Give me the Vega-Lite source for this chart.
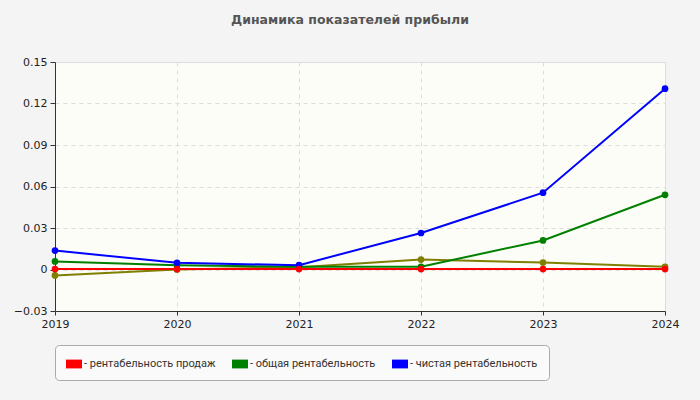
{
  "$schema": "https://vega.github.io/schema/vega-lite/v6.json",
  "autosize": {"type": "none"},
  "width": 610,
  "height": 249,
  "padding": {"left": 55, "top": 62, "right": 35, "bottom": 89},
  "background": "#f4f4f4",
  "title": {
    "text": "Динамика показателей прибыли",
    "anchor": "middle",
    "dx": -10,
    "offset": 30,
    "font": "DejaVu Sans",
    "fontSize": 12.5,
    "fontWeight": "bold",
    "color": "#555555"
  },
  "data": {
    "values": [
      {"year": 2019, "series": "прочее", "value": -0.0043},
      {"year": 2020, "series": "прочее", "value": 0.0},
      {"year": 2021, "series": "прочее", "value": 0.0017},
      {"year": 2022, "series": "прочее", "value": 0.0072},
      {"year": 2023, "series": "прочее", "value": 0.005},
      {"year": 2024, "series": "прочее", "value": 0.002},
      {"year": 2019, "series": "общая рентабельность", "value": 0.0058},
      {"year": 2020, "series": "общая рентабельность", "value": 0.003},
      {"year": 2021, "series": "общая рентабельность", "value": 0.002},
      {"year": 2022, "series": "общая рентабельность", "value": 0.002},
      {"year": 2023, "series": "общая рентабельность", "value": 0.021},
      {"year": 2024, "series": "общая рентабельность", "value": 0.054},
      {"year": 2019, "series": "чистая рентабельность", "value": 0.0137},
      {"year": 2020, "series": "чистая рентабельность", "value": 0.0048},
      {"year": 2021, "series": "чистая рентабельность", "value": 0.0031},
      {"year": 2022, "series": "чистая рентабельность", "value": 0.0264},
      {"year": 2023, "series": "чистая рентабельность", "value": 0.0555},
      {"year": 2024, "series": "чистая рентабельность", "value": 0.1307},
      {"year": 2019, "series": "рентабельность продаж", "value": 0.0003},
      {"year": 2020, "series": "рентабельность продаж", "value": 0.0003},
      {"year": 2021, "series": "рентабельность продаж", "value": 0.0003},
      {"year": 2022, "series": "рентабельность продаж", "value": 0.0003},
      {"year": 2023, "series": "рентабельность продаж", "value": 0.0003},
      {"year": 2024, "series": "рентабельность продаж", "value": 0.0003}
    ]
  },
  "encoding": {
    "x": {
      "field": "year",
      "type": "quantitative",
      "scale": {"domain": [2019, 2024], "nice": false, "zero": false},
      "axis": {
        "title": null,
        "values": [2019, 2020, 2021, 2022, 2023, 2024],
        "format": "d",
        "labelFlush": false,
        "tickSize": 4,
        "labelPadding": 3
      }
    },
    "y": {
      "field": "value",
      "type": "quantitative",
      "scale": {"domain": [-0.03, 0.15], "nice": false, "zero": false},
      "axis": {
        "title": null,
        "values": [-0.03, 0, 0.03, 0.06, 0.09, 0.12, 0.15],
        "labelExpr": "datum.value == 0 ? '0' : format(datum.value, '.2f')",
        "tickSize": 5,
        "labelPadding": 3
      }
    },
    "color": {
      "field": "series",
      "type": "nominal",
      "scale": {
        "domain": ["прочее", "общая рентабельность", "чистая рентабельность", "рентабельность продаж"],
        "range": ["#808000", "#008000", "#0000ff", "#ff0000"]
      },
      "legend": {
        "values": ["рентабельность продаж", "общая рентабельность", "чистая рентабельность"],
        "title": null,
        "labelExpr": "'- ' + datum.label"
      }
    }
  },
  "layer": [
    {"mark": {"type": "line", "strokeWidth": 2}},
    {"mark": {"type": "point", "filled": true, "size": 45, "opacity": 1}}
  ],
  "config": {
    "view": {"fill": "#fcfdf7", "stroke": "#dddddd"},
    "axis": {
      "labelFont": "DejaVu Sans",
      "labelFontSize": 11,
      "labelColor": "#222222",
      "domainColor": "#333333",
      "tickColor": "#333333",
      "gridColor": "#dddddd",
      "gridDash": [4, 4]
    },
    "legend": {
      "orient": "none",
      "legendX": 0,
      "legendY": 283,
      "direction": "horizontal",
      "fillColor": "#fafafa",
      "strokeColor": "#aaaaaa",
      "cornerRadius": 4,
      "padding": 11,
      "columnPadding": 16,
      "symbolType": "M-1,-0.55H1V0.55H-1Z",
      "symbolSize": 256,
      "symbolStrokeWidth": 0,
      "labelFont": "Roboto",
      "labelFontSize": 11,
      "labelColor": "#333333",
      "labelOffset": 2
    }
  }
}
